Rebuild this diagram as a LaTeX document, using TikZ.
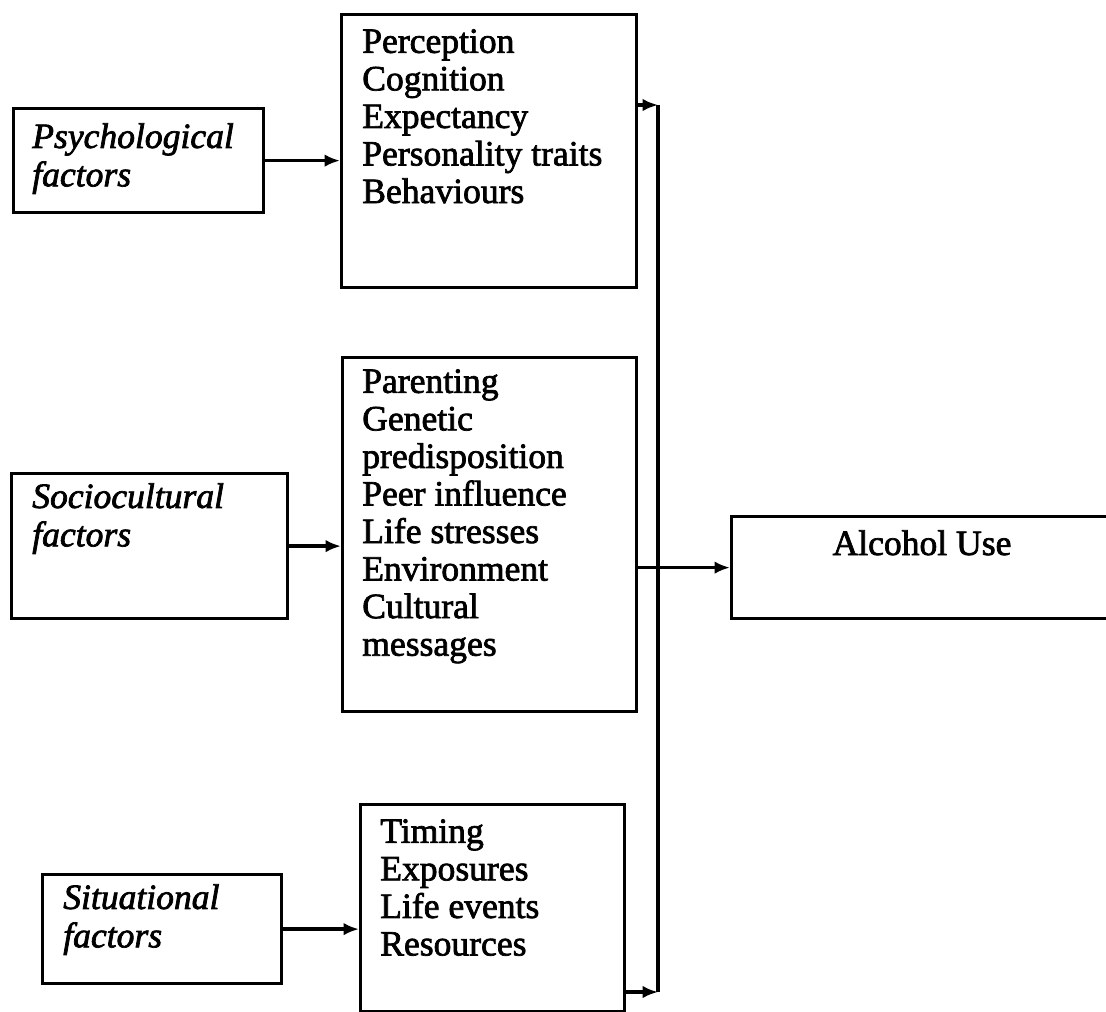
\documentclass[tikz,border=0pt]{standalone}
\usepackage{fontspec}
\setmainfont{Liberation Serif}[FakeBold=2]
\usetikzlibrary{arrows.meta, positioning}

\newlength{\px}
\setlength{\px}{0.025cm}

\begin{document}
\begin{tikzpicture}[
        x=\px, y=-\px,
        every node/.style={font=\fontsize{25.3}{26.7}\selectfont},
        box/.style={rectangle, draw, line width=2.3pt, anchor=north west, inner sep=0pt},
        factor/.style={anchor=north west, align=left, inner sep=0pt, font=\fontsize{25.3}{27.3}\selectfont\itshape},
        list/.style={anchor=north west, align=left, inner sep=0pt},
        arrow/.style={-{Latex[length=11pt, width=9pt]}, line width=2.6pt}
    ]
        \useasboundingbox (0,0) rectangle (1106,1012);

        % Boxes
        \node[box, minimum width=250\px, minimum height=104\px] (psy) at (12,107) {};
        \node[box, minimum width=295\px, minimum height=273\px] (perc) at (340,13) {};
        \node[box, minimum width=276\px, minimum height=145\px] (soc) at (10,472) {};
        \node[box, minimum width=294\px, minimum height=354\px] (env) at (341,356) {};
        \node[box, minimum width=239\px, minimum height=109\px] (sit) at (41,873) {};
        \node[box, minimum width=264\px, minimum height=207\px] (tim) at (359,803) {};
        \node[box, minimum width=385\px, minimum height=102\px] (alc) at (730,515) {};

        % Texts
        \node[factor] (psytext) at (32,123) {Psychological\\factors};
        \node[list] (perctext) at (362,29) {Perception\\Cognition\\Expectancy\\Personality traits\\Behaviours};
        \node[factor] (soctext) at (32,483) {Sociocultural\\factors};
        \node[list] (envtext) at (362,369) {Parenting\\Genetic\\predisposition\\Peer influence\\Life stresses\\Environment\\Cultural\\messages};
        \node[factor] (sittext) at (63,884) {Situational\\factors};
        \node[list] (timtext) at (380,819) {Timing\\Exposures\\Life events\\Resources};
        \node[anchor=base] (alctext) at (922,555) {Alcohol Use};

        % Arrows
        \coordinate (bustop) at (658,105);
        \coordinate (busbot) at (658,992);
        \draw[arrow] (psy.east) -- (psy.east -| perc.west);
        \draw[arrow] (soc.east) -- (soc.east -| env.west);
        \draw[arrow] (sit.east) -- (sit.east -| tim.west);
        \draw[arrow] (bustop -| perc.east) -- (bustop);
        \draw[line width=2.6pt] (bustop) -- (busbot);
        \draw[arrow] (busbot -| tim.east) -- (busbot);
        \draw[arrow] (alc.west -| env.east) -- (alc.west);
    \end{tikzpicture}
\end{document}
